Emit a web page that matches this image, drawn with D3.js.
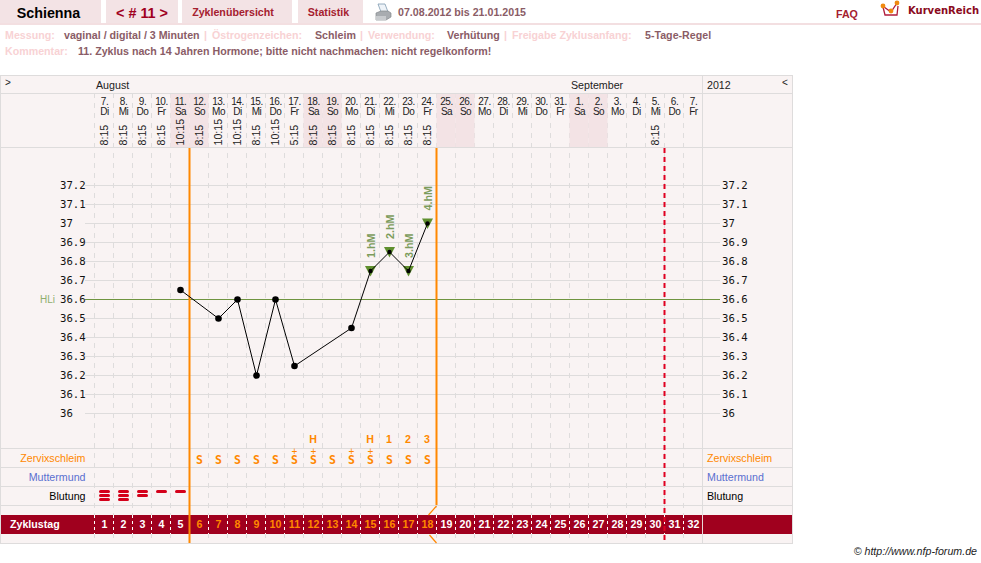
<!DOCTYPE html>
<html><head><meta charset="utf-8">
<script src="https://cdn.jsdelivr.net/npm/d3@7"></script>
<style>
html,body{margin:0;padding:0;background:#fff}
svg{display:block;font-family:"Liberation Sans",Arial,sans-serif}
</style></head><body><div id="chart"></div>
<script>
// Cycle chart: one fertility cycle with temperature curve and symptom rows
const dayNumbers = [7,8,9,10,11,12,13,14,15,16,17,18,19,20,21,22,23,24,25,26,27,28,29,30,31,1,2,3,4,5,6,7];
const weekdays = ["Di","Mi","Do","Fr","Sa","So","Mo","Di","Mi","Do","Fr","Sa","So","Mo","Di","Mi","Do","Fr","Sa","So","Mo","Di","Mi","Do","Fr","Sa","So","Mo","Di","Mi","Do","Fr"];
const measureTimes = ["8:15","8:15","8:15","8:15","10:15","8:15","10:15","10:15","8:15","10:15","5:15","8:15","8:15","8:15","8:15","8:15","8:15","8:15",null,null,null,null,null,null,null,null,null,null,null,"8:15",null,null];
const cycleDays = d3.range(1,33);
const temperatures = [[5,36.65],[7,36.5],[8,36.6],[9,36.2],[10,36.6],[11,36.25],[14,36.45],[15,36.75],[16,36.85],[17,36.75],[18,37.0]];
const highMarks = [[15,36.75,"1.hM"],[16,36.85,"2.hM"],[17,36.75,"3.hM"],[18,37.0,"4.hM"]];
const tempTicks = [37.2,37.1,37,36.9,36.8,36.7,36.6,36.5,36.4,36.3,36.2,36.1,36];
const mucusDays = [[6,"S",0],[7,"S",0],[8,"S",0],[9,"S",0],[10,"S",0],[11,"S",1],[12,"S",1],[13,"S",0],[14,"S",1],[15,"S",1],[16,"S",0],[17,"S",0],[18,"S",0]];
const peakLabels = [[12,"H"],[15,"H"],[16,"1"],[17,"2"],[18,"3"]];
const bleeding = [[1,3],[2,3],[3,2],[4,1],[5,1]];
const phaseStart = 5, phaseEnd = 18, ovulationEnd = 30;
const coverline = 36.6;
const rowLabels = [["Zervixschleim","#ff8800",458],["Muttermund","#5a6fd0",477],["Blutung","#000",496]];

const W = 981, H = 563;
const x = d3.scaleLinear().domain([0,32]).range([94.5,702.5]);
const y = d3.scaleLinear().domain([36,37.2]).range([413.5,185.5]);
const cx = d => x(d-0.5)+0.5;

const svg = d3.select("#chart").append("svg").attr("width",W).attr("height",H);
const grid = "#dedcdc";
const small = 10.67;

// Top navigation
const tabs = [[0,101,"Schienna",48.5,"#000",14.3,"bold"],[106,72,"< # 11 >",142,"#a0001e",14.4,"bold"],[182,110,"Zyklenübersicht",233,"#a5202f",small,"bold"],[298,65,"Statistik",328.5,"#a5202f",small,"bold"]];
const nav = svg.append("g");
nav.selectAll("rect").data(tabs).join("rect").attr("x",d=>d[0]).attr("y",0).attr("width",d=>d[1]).attr("height",23).attr("fill","#f3e3e5");
nav.selectAll("text").data(tabs).join("text").attr("x",d=>d[3]).attr("y",d=>d[5]>12?18:16).attr("text-anchor","middle")
  .attr("fill",d=>d[4]).attr("font-size",d=>d[5]).attr("font-weight",d=>d[6]).text(d=>d[2]);
svg.append("rect").attr("x",0).attr("y",23).attr("width",W).attr("height",2).attr("fill","#f3dfe1");

// Printer icon
const pr = svg.append("g");
pr.append("path").attr("d","M378 4h7l3 8h-7z").attr("fill","#eef3f8").attr("stroke","#7f9ab0").attr("stroke-width",.8);
pr.append("path").attr("d","M376 13l5 -2h7l3 2v4l-5 3h-10l-0 -4z").attr("fill","#a8acb0").attr("stroke","#85898e").attr("stroke-width",.7);
pr.append("path").attr("d","M376 16h10v4h-10z").attr("fill","#c8cbce");
svg.append("text").attr("x",398).attr("y",16).attr("font-size",small).attr("font-weight","bold").attr("fill","#8a5c66").text("07.08.2012 bis 21.01.2015");
svg.append("text").attr("x",836).attr("y",18).attr("font-size",small).attr("font-weight","bold").attr("fill","#a5202f").text("FAQ");

// Logo mark
const logo = svg.append("g");
logo.append("path").attr("d","M883 7l2 8h12l1 -9").attr("fill","#fff").attr("stroke","#b01c3c").attr("stroke-width",1.3);
logo.append("path").attr("d","M884 7l7 5l6 -9").attr("fill","none").attr("stroke","#b01c3c").attr("stroke-width",1.3);
logo.selectAll("circle").data([[883,6],[891,11],[897,3]]).join("circle").attr("cx",d=>d[0]).attr("cy",d=>d[1]).attr("r",2.4).attr("fill","#f08a10");
svg.append("text").attr("x",908).attr("y",13.5).attr("font-size",10).attr("font-weight","bold").attr("font-family","DejaVu Sans").attr("fill","#8a0a20").text("KurvenReich");

// Meta lines
const meta = [[5,39,"Messung:",0],[64,39,"vaginal / digital / 3 Minuten",1],[204,39,"|",0],[212,39,"Östrogenzeichen:",0],[315,39,"Schleim",1],[360,39,"|",0],[368,39,"Verwendung:",0],[447,39,"Verhütung",1],[504,39,"|",0],[512,39,"Freigabe Zyklusanfang:",0],[645,39,"5-Tage-Regel",1],[5,55,"Kommentar:",0],[78,55,"11. Zyklus nach 14 Jahren Hormone; bitte nicht nachmachen: nicht regelkonform!",1]];
svg.append("g").selectAll("text").data(meta).join("text").attr("x",d=>d[0]).attr("y",d=>d[1]).attr("font-size",small).attr("font-weight","bold")
  .attr("fill",d=>d[3]?"#8a5c66":"#f8d2d4").text(d=>d[2]);

// Chart panel
svg.append("rect").attr("x",0.5).attr("y",75.5).attr("width",792).attr("height",468).attr("fill","#f9f3f3").attr("stroke",grid);

// Temperature grid
svg.append("g").selectAll("line").data(tempTicks).join("line").attr("x1",85).attr("x2",720)
  .attr("y1",d=>y(d)).attr("y2",d=>y(d)).attr("stroke",grid);
// Day separators
svg.append("g").selectAll("line").data(d3.range(0,32)).join("line").attr("x1",d=>x(d)).attr("x2",d=>x(d)).attr("y1",93).attr("y2",543)
  .attr("stroke",grid).attr("stroke-dasharray","5 5");
// Weekend shading in the header
svg.append("g").selectAll("rect").data(cycleDays.filter(d=>weekdays[d-1]==="Sa"||weekdays[d-1]==="So")).join("rect")
  .attr("x",d=>x(d-1)).attr("y",93.5).attr("width",19).attr("height",54).attr("fill","#f3e3e5");
// Horizontal structure
svg.append("g").selectAll("line").data([93.5,147.5,448.5,467.5,486.5,505.5]).join("line").attr("x1",0.5).attr("x2",792.5).attr("y1",d=>d).attr("y2",d=>d).attr("stroke",grid);
svg.append("line").attr("x1",702.5).attr("x2",702.5).attr("y1",75).attr("y2",543).attr("stroke",grid);

// Header text
const hdr = svg.append("g").attr("font-size",10).attr("fill","#222");
hdr.append("text").attr("x",5).attr("y",86).text(">");
hdr.append("text").attr("x",782).attr("y",86).text("<");
hdr.append("text").attr("x",96).attr("y",89).attr("font-size",small).text("August");
hdr.append("text").attr("x",571).attr("y",89).attr("font-size",small).text("September");
hdr.append("text").attr("x",707).attr("y",89).attr("font-size",small).text("2012");
hdr.selectAll(".dn").data(cycleDays).join("text").attr("class","dn").attr("x",cx).attr("y",105).attr("text-anchor","middle").attr("letter-spacing",-0.5).text(d=>dayNumbers[d-1]+".");
hdr.selectAll(".wd").data(cycleDays).join("text").attr("class","wd").attr("x",cx).attr("y",115).attr("text-anchor","middle").attr("letter-spacing",-0.5).text(d=>weekdays[d-1]);
hdr.selectAll(".tm").data(cycleDays.filter(d=>measureTimes[d-1])).join("text").attr("class","tm").attr("font-size",small)
  .attr("transform",d=>`translate(${cx(d)+3.5},145.5) rotate(-90)`).text(d=>measureTimes[d-1]);

// Temperature labels, both sides
const tl = svg.append("g").attr("font-size",small).attr("font-family","DejaVu Sans Mono").attr("fill","#111");
tl.selectAll(".l").data(tempTicks).join("text").attr("class","l").attr("x",60).attr("y",d=>y(d)+3).text(d=>d);
tl.selectAll(".r").data(tempTicks).join("text").attr("class","r").attr("x",722).attr("y",d=>y(d)+3).text(d=>d);

// Coverline
svg.append("line").attr("x1",85).attr("x2",720).attr("y1",y(coverline)).attr("y2",y(coverline)).attr("stroke","#6f9440");
svg.append("text").attr("x",40).attr("y",y(coverline)+3.5).attr("font-size",10).attr("fill","#8fae6e").text("HLi");

// Row labels
svg.append("g").attr("font-size",small).selectAll("text").data(rowLabels).join("text").attr("x",85.5).attr("y",d=>d[2]+4).attr("text-anchor","end").attr("fill",d=>d[1]).text(d=>d[0]);
svg.append("g").attr("font-size",small).selectAll("text").data(rowLabels).join("text").attr("x",707).attr("y",d=>d[2]+4).attr("fill",d=>d[1]).text(d=>d[0]);

// Mucus symbols and peak counting
const orange = "#ff8800";
svg.append("g").attr("font-size",11.5).attr("font-weight","bold").attr("font-family","DejaVu Sans Mono").attr("fill",orange).attr("text-anchor","middle")
  .selectAll("text").data(mucusDays).join("text").attr("x",d=>cx(d[0])).attr("y",463.5).text(d=>d[1]);
svg.append("g").attr("font-size",10).attr("fill",orange).attr("text-anchor","middle")
  .selectAll("text").data(mucusDays.filter(d=>d[2])).join("text").attr("x",d=>cx(d[0])).attr("y",455).text("+");
svg.append("g").attr("font-size",small).attr("font-weight","bold").attr("fill",orange).attr("text-anchor","middle")
  .selectAll("text").data(peakLabels).join("text").attr("x",d=>cx(d[0])-.5).attr("y",443).text(d=>d[1]);

// Bleeding bars
bleeding.forEach(([d,n])=>{
  svg.append("g").selectAll("rect").data(d3.range(n)).join("rect").attr("x",cx(d)-5.5).attr("y",o=>490+o*4).attr("width",11).attr("height",3).attr("rx",1.5).attr("fill","#d4001a");
});

// Cycle-day band
svg.append("rect").attr("x",1).attr("y",515).attr("width",791).attr("height",19).attr("fill","#a0001e");
svg.append("g").selectAll("line").data(d3.range(0,32)).join("line").attr("x1",d=>x(d)).attr("x2",d=>x(d)).attr("y1",515).attr("y2",534).attr("stroke","#fff").attr("stroke-dasharray","3 3");
svg.append("line").attr("x1",702.5).attr("x2",702.5).attr("y1",515).attr("y2",534).attr("stroke","#e8d8d8");
svg.append("text").attr("x",10).attr("y",528).attr("font-size",small).attr("font-weight","bold").attr("fill","#fff").text("Zyklustag");
svg.append("g").attr("font-size",small).attr("font-weight","bold").attr("text-anchor","middle").selectAll("text").data(cycleDays).join("text")
  .attr("x",d=>cx(d)).attr("y",528).attr("fill",d=>d>phaseStart&&d<=phaseEnd?orange:"#fff").text(d=>d);

// Phase boundaries
svg.append("line").attr("x1",x(phaseStart)).attr("x2",x(phaseStart)).attr("y1",148).attr("y2",543).attr("stroke",orange).attr("stroke-width",2);
svg.append("line").attr("x1",x(phaseEnd)).attr("x2",x(phaseEnd)).attr("y1",148).attr("y2",505).attr("stroke",orange).attr("stroke-width",2);
svg.append("path").attr("d",`M${x(phaseEnd)} 506L${x(phaseEnd)-8} 515M${x(phaseEnd)-7} 535L${x(phaseEnd)} 543`).attr("fill","none").attr("stroke",orange).attr("stroke-width",1.2);
svg.append("line").attr("x1",x(ovulationEnd)).attr("x2",x(ovulationEnd)).attr("y1",148).attr("y2",543).attr("stroke","#e00020").attr("stroke-width",2).attr("stroke-dasharray","5 4");

// High-measurement triangles
svg.append("g").selectAll("path").data(highMarks).join("path")
  .attr("d",d=>`M${cx(d[0])-5.5} ${y(d[1])-5}h11L${cx(d[0])} ${y(d[1])+5.5}z`).attr("fill","#5f8f2e");

// Temperature curve
const line = d3.line().x(d=>cx(d[0])).y(d=>y(d[1]));
const isHigh = d => highMarks.some(m=>m[0]===d[0]);
svg.append("path").datum(temperatures).attr("d",line).attr("fill","none").attr("stroke","#000").attr("stroke-width",1);
svg.append("g").selectAll("circle").data(temperatures).join("circle").attr("cx",d=>cx(d[0])).attr("cy",d=>y(d[1])).attr("r",d=>isHigh(d)?2.2:3.3).attr("fill","#000");
svg.append("g").attr("font-size",small).attr("font-weight","bold").attr("fill","#7c9c5c").selectAll("text").data(highMarks).join("text")
  .attr("transform",d=>`translate(${cx(d[0])+4},${y(d[1])-13}) rotate(-90)`).text(d=>d[2]);

svg.append("text").attr("x",977).attr("y",555).attr("text-anchor","end").attr("font-size",small).attr("font-style","italic").attr("fill","#222").text("© http://www.nfp-forum.de");
</script></body></html>
